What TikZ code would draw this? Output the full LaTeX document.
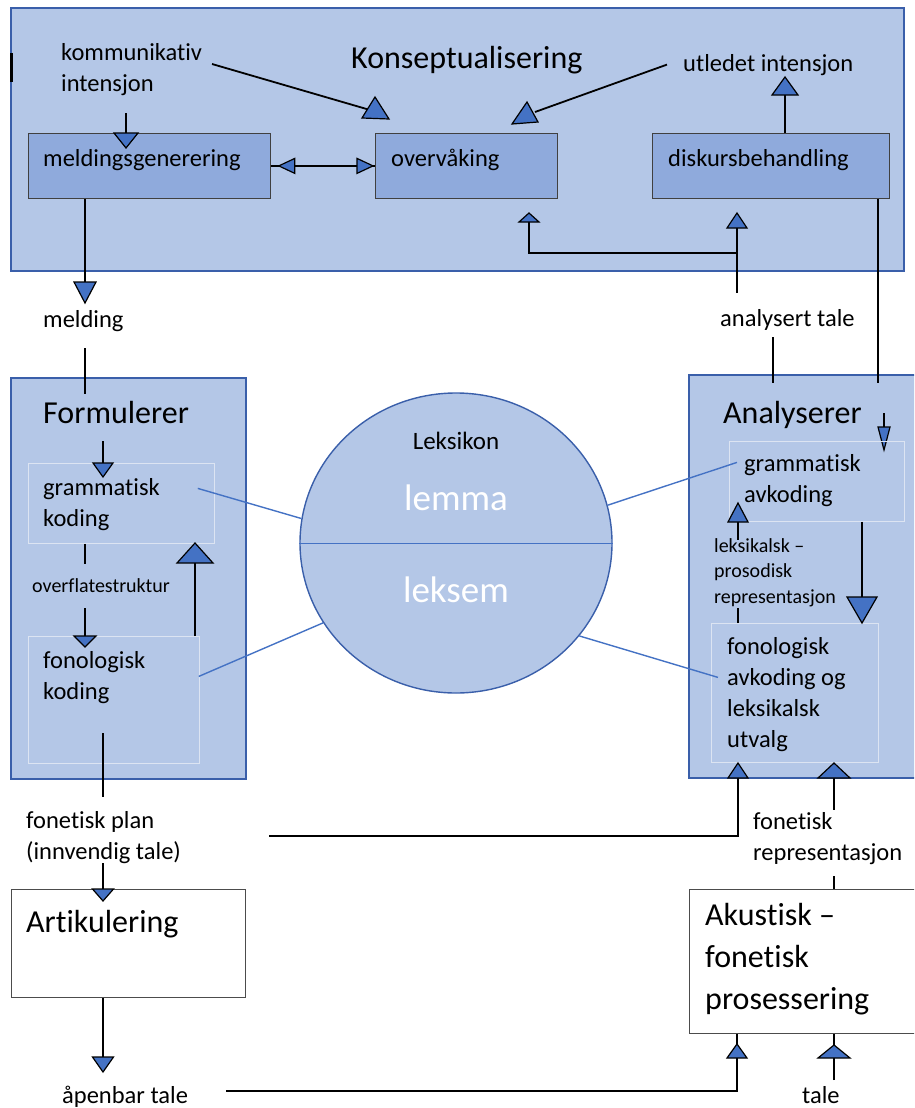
\documentclass[tikz,border=0pt]{standalone}
\usepackage{fontspec}
\setmainfont{Carlito}[Ligatures=NoCommon]
\usetikzlibrary{shapes.geometric}

\definecolor{bgblue}{HTML}{B4C7E7}
\definecolor{midblue}{HTML}{8FAADC}
\definecolor{tipblue}{HTML}{4472C4}
\definecolor{edgeblue}{HTML}{3A5FAA}
\definecolor{paleline}{HTML}{DCE4F2}

\newcommand{\ttlsize}{\fontsize{32}{42}\selectfont}
\newcommand{\lblsize}{\fontsize{24.5}{31}\selectfont}
\newcommand{\smlsize}{\fontsize{20}{25.5}\selectfont}
\newcommand{\lexsize}{\fontsize{25}{30}\selectfont}
\newcommand{\lemsize}{\fontsize{37}{42}\selectfont}

% triangle heads: base centre, half width, height (down is positive)
\newcommand{\tipv}[3]{\filldraw[tip] (#1) ++(-#2,0) -- ++(2*#2,0) -- ++(-#2,#3) -- cycle;}
\newcommand{\tiph}[3]{\filldraw[tip] (#1) ++(0,-#2) -- ++(0,2*#2) -- ++(#3,-#2) -- cycle;}

\tikzset{
  bigbox/.style={draw=edgeblue, line width=1.6pt, fill=bgblue, anchor=north west, inner sep=0},
  cbox/.style={draw=black!75, line width=0.8pt, fill=midblue, anchor=north west, inner sep=0},
  subbox/.style={draw=paleline, line width=0.8pt, anchor=north west, inner sep=0},
  wbox/.style={draw=black!70, line width=0.8pt, fill=white, anchor=north west, inner sep=0},
  txt/.style={anchor=base west, inner sep=0, align=left, font=\lblsize},
  ln/.style={line width=1.8pt},
  tip/.style={fill=tipblue, draw=black, line width=1.2pt},
  lexln/.style={draw=tipblue, line width=1.4pt}
}

\begin{document}
\begin{tikzpicture}[x=1pt, y=-1pt]
\clip (0,0) rectangle (914,1108);

% Konseptualisering
\node[bigbox, minimum width=893, minimum height=263] (konsept) at (10,7) {};
\draw[line width=2.4pt] (11.5,53) -- (11.5,82);
\node[txt, font=\ttlsize] (konsepttl) at (351,68) {Konseptualisering};
\node[txt] (komm) at (61,91) {kommunikativ\\intensjon};
\node[txt] (utled) at (683,71) {utledet intensjon};
\node[cbox, minimum width=242, minimum height=65] (meldgen) at (28,133) {};
\node[cbox, minimum width=182, minimum height=65] (overv) at (375,133) {};
\node[cbox, minimum width=237, minimum height=65] (diskurs) at (652,133) {};
\node[txt] (meldgent) at (43,166) {meldingsgenerering};
\node[txt] (overvt) at (391,166) {overvåking};
\node[txt] (diskurst) at (668,166) {diskursbehandling};

\coordinate (tkomm) at (126,133);
\draw[ln] (tkomm) ++(0,-20) -- (tkomm);
\tipv{tkomm}{12}{15}
\coordinate (kslope) at (370,110);
\draw[ln] (212,64) -- (kslope);
\filldraw[tip] (362,118) -- (375,97) -- (389,119) -- cycle;

\draw[ln] (meldgen.east) -- (overv.west);
\coordinate (dl) at ([xshift=24]meldgen.east);
\coordinate (dr) at ([xshift=-18]overv.west);
\tiph{dl}{7.5}{-16}
\tiph{dr}{7.5}{16}

\coordinate (uslope) at (535,112);
\draw[ln] ([xshift=-16]utled.west) -- (uslope);
\filldraw[tip] (512,124) -- (527,102) -- (538,122) -- cycle;

\coordinate (tutl) at (785,95);
\draw[ln] (diskurs.north -| tutl) -- (tutl);
\tipv{tutl}{13}{-18}

% melding
\coordinate (tmeld) at (85,282);
\draw[ln] (meldgen.south -| tmeld) -- (tmeld);
\tipv{tmeld}{11}{21}
\node[txt] (melding) at (43,327) {melding};

% analysert tale tilbake
\coordinate (tov) at (529,222);
\coordinate (tdi) at (737,228);
\coordinate (fbk) at (737,253);
\draw[ln] (tov) |- (fbk) (tdi) -- ++(0,65);
\tipv{tov}{10}{-9}
\tipv{tdi}{10}{-15}
\node[txt] (analtale) at (720,326) {analysert tale};

% Formulerer
\node[bigbox, minimum width=235, minimum height=401] (formul) at (10,377) {};
\draw[ln] (tmeld) ++(0,66) -- ++(0,46);
\node[txt, font=\ttlsize] (formt) at (43,423) {Formulerer};
\node[subbox, minimum width=186, minimum height=80] (gkod) at (28,463) {};
\node[subbox, minimum width=171, minimum height=127] (fkod) at (28,636) {};
\node[txt] (gkodt) at (43,526) {grammatisk\\koding};
\node[txt] (fkodt) at (43,699) {fonologisk\\koding};
\node[txt, font=\smlsize] (overfl) at (32,592) {overflatestruktur};

\coordinate (tgk) at (103,463);
\draw[ln] (tgk) ++(0,-22) -- (tgk);
\tipv{tgk}{10}{14}
\coordinate (tfk) at (85,636);
\draw[ln] (gkod.south -| tfk) -- ++(0,20);
\draw[ln] (tfk) ++(0,-28) -- (tfk);
\tipv{tfk}{11}{11}
\coordinate (tup) at (195,563);
\draw[ln] (fkod.north -| tup) -- (tup);
\tipv{tup}{18}{-20}

% Artikulering
\coordinate (tart) at (103,889);
\draw[ln] (tart) ++(0,-156) -- ++(0,64);
\draw[ln] (tart) ++(0,-26) -- (tart);
\node[txt] (fonplan) at (26,859) {fonetisk plan\\(innvendig tale)};
\node[wbox, minimum width=234, minimum height=108] (artik) at (11,889) {};
\node[txt, font=\ttlsize] (artikt) at (26,932) {Artikulering};
\tipv{tart}{10.5}{12}
\coordinate (tapen) at (103,1057);
\draw[ln] (artik.south -| tapen) -- (tapen);
\tipv{tapen}{10.5}{15}
\node[txt] (apen) at (62,1103) {åpenbar tale};

% Leksikon
\node[ellipse, draw=edgeblue, line width=1.4pt, fill=bgblue, inner sep=0,
  minimum width=312, minimum height=300] (leks) at (456,543) {};
\draw[draw=tipblue, line width=1pt] (leks.west) -- (leks.east);
\node[anchor=base, inner sep=0, font=\lexsize] (lekst) at (456,449) {Leksikon};
\node[anchor=base, inner sep=0, font=\lemsize, text=white] (lemma) at (456,510) {lemma};
\node[anchor=base, inner sep=0, font=\lemsize, text=white] (leksem) at (456,602) {leksem};

% Analyserer
\node[bigbox, minimum width=240, minimum height=403] (analys) at (688,374) {};
\coordinate (atl) at (773,337);
\draw[ln] (atl) -- ++(0,46);
\coordinate (dsk) at (878,383);
\draw[ln] (diskurs.south -| dsk) -- (dsk);
\node[txt, font=\ttlsize] (analyst) at (723,423) {Analyserer};
\coordinate (tga) at (884,427);
\draw[ln] (tga) ++(0,-14) -- (tga);
\tipv{tga}{6}{23}
\node[subbox, minimum width=175, minimum height=80] (gavk) at (729,441) {};
\node[subbox, minimum width=167, minimum height=139] (favk) at (711,623) {};
\node[txt] (gavkt) at (744,502) {grammatisk\\avkoding};
\node[txt, font=\smlsize] (leksros) at (714,603) {leksikalsk –\\prosodisk\\representasjon};
\node[txt] (favkt) at (727,747) {fonologisk\\avkoding og\\leksikalsk\\utvalg};
\coordinate (tlp) at (738,522);
\draw[ln] (tlp) -- ++(0,18);
\draw[ln] (favk.north -| tlp) -- ++(0,-15);
\tipv{tlp}{10}{-19}
\coordinate (tbig) at (862,597);
\draw[ln] (gavk.south -| tbig) -- (tbig);
\tipv{tbig}{15}{26}

% linjer til leksikon
\draw[lexln] (gkod.east) ++(-17,-15) -- (leks.171);
\draw[lexln] (fkod.east) ++(-1,-23.5) -- (leks.211);
\draw[lexln] (leks.14) -- ([shift={(8,-19)}]gavk.west);
\draw[lexln] (leks.-37) -- ([shift={(7,-15.5)}]favk.west);

% Akustisk
\coordinate (fpl) at (269,836);
\coordinate (tfp) at (738,778);
\draw[ln] (fpl) -| (tfp);
\tipv{tfp}{10}{-15}
\coordinate (tfr) at (834,778);
\draw[ln] (tfr) -- ++(0,32);
\tipv{tfr}{16}{-15}
\node[txt] (fonrep) at (753,860) {fonetisk\\representasjon};
\node[wbox, minimum width=240, minimum height=144] (akust) at (689,889) {};
\draw[ln] (akust.north -| tfr) -- ++(0,-13);
\node[txt, font=\ttlsize] (akustt) at (705,1009) {Akustisk –\\fonetisk\\prosessering};
\coordinate (apn) at (226,1091);
\coordinate (tap) at (737,1058);
\draw[ln] (apn) -| (akust.south -| tap);
\tipv{tap}{10}{-14}
\coordinate (ttale) at (834,1058);
\draw[ln] (ttale) ++(0,22) -- (akust.south -| ttale);
\tipv{ttale}{16}{-13}
\node[txt] (tale) at (802,1103) {tale};
\end{tikzpicture}
\end{document}
